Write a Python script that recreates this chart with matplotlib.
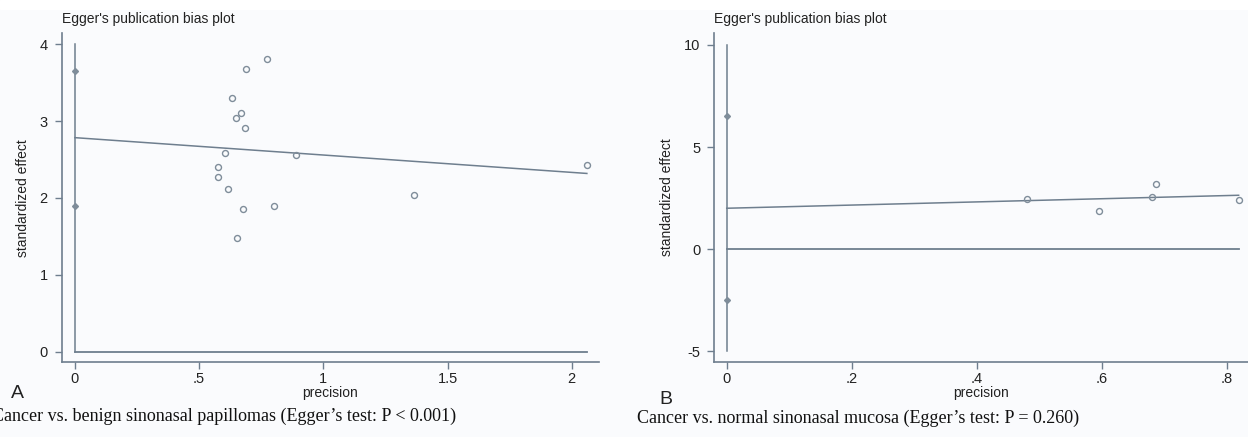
import numpy as np
import matplotlib
matplotlib.use("Agg")
import matplotlib.pyplot as plt
from matplotlib.patches import Rectangle
from matplotlib.ticker import FuncFormatter

# ---- Panel A: cancer vs. benign sinonasal papillomas ----
a_precision = [0.772, 0.689, 0.634, 0.667, 0.650, 0.685, 0.604, 0.891,
               0.577, 0.575, 0.615, 1.365, 0.801, 0.678, 0.652, 2.061]
a_effect = [3.805, 3.683, 3.297, 3.102, 3.041, 2.911, 2.589, 2.563,
            2.400, 2.273, 2.121, 2.039, 1.896, 1.853, 1.476, 2.433]
a_intercept, a_slope = 2.785, -0.226
a_ci = [3.657, 1.900]
a_xticks = [0, 0.5, 1, 1.5, 2]
a_yticks = [0, 1, 2, 3, 4]

# ---- Panel B: cancer vs. normal sinonasal mucosa ----
b_precision = [0.481, 0.595, 0.680, 0.687, 0.819]
b_effect = [2.48, 1.86, 2.56, 3.18, 2.43]
b_intercept, b_slope = 2.005, 0.776
b_ci = [6.50, -2.49]
b_xticks = [0, 0.2, 0.4, 0.6, 0.8]
b_yticks = [-5, 0, 5, 10]

line_col = '#6e7e8e'
mark_col = '#7f8d9a'
text_col = '#222222'
bg = '#fafbfd'

plt.rcParams['font.family'] = ['Liberation Sans', 'DejaVu Sans']

fig = plt.figure(figsize=(12.48, 4.37), dpi=100, facecolor=bg)
fig.add_artist(Rectangle((0, 1 - 9 / 437), 1, 9 / 437, transform=fig.transFigure,
                         color='white', zorder=0))


def stata_fmt(v, pos):
    s = ('%g' % v)
    if s.startswith('0.'):
        s = s[1:]
    elif s.startswith('-0.'):
        s = '-' + s[2:]
    return s


def egger_panel(rect, prec, eff, b0, b1, ci, xticks, yticks, xlim, ylim):
    ax = fig.add_axes(rect, facecolor=bg)
    xmax = max(prec)
    # vertical line at precision 0 spanning the y ticks, plus zero line
    ax.plot([0, 0], [yticks[0], yticks[-1]], color=line_col, lw=1.1, zorder=2)
    ax.plot([0, xmax], [0, 0], color=line_col, lw=1.3, zorder=2)
    # fitted line
    ax.plot([0, xmax], [b0, b0 + b1 * xmax], color=line_col, lw=1.1, zorder=3)
    # intercept CI markers
    ax.plot([0, 0], ci, ls='none', marker='D', ms=3, color=mark_col, zorder=4)
    # studies
    ax.plot(prec, eff, ls='none', marker='o', ms=4.3, mfc='none',
            mec=mark_col, mew=1.0, zorder=5)
    ax.set_xlim(*xlim)
    ax.set_ylim(*ylim)
    ax.set_xticks(xticks)
    ax.set_yticks(yticks)
    ax.xaxis.set_major_formatter(FuncFormatter(stata_fmt))
    ax.yaxis.set_major_formatter(FuncFormatter(stata_fmt))
    for s in ['top', 'right']:
        ax.spines[s].set_visible(False)
    for s in ['left', 'bottom']:
        ax.spines[s].set_color(line_col)
        ax.spines[s].set_linewidth(1.2)
    ax.tick_params(axis='both', direction='out', length=5, width=1.0,
                   color=line_col, labelsize=10.5, labelcolor=text_col)
    ax.tick_params(axis='x', pad=2)
    ax.tick_params(axis='y', pad=5)
    ax.set_xlabel('precision', fontsize=10, color=text_col, labelpad=0)
    ax.set_ylabel('standardized effect', fontsize=10, color=text_col, labelpad=7)
    ax.text(0, 1.02, "Egger's publication bias plot", transform=ax.transAxes,
            ha='left', va='bottom', fontsize=10, color=text_col)
    return ax


egger_panel([0.0494, 0.171, 0.4306, 0.7535], a_precision, a_effect,
            a_intercept, a_slope, a_ci, a_xticks, a_yticks,
            (-0.0536, 2.11), (-0.138, 4.147))
egger_panel([0.5724, 0.172, 0.4276, 0.7525], b_precision, b_effect,
            b_intercept, b_slope, b_ci, b_xticks, b_yticks,
            (-0.0198, 0.834), (-5.51, 10.58))

fig.text(17 / 1248, 1 - 394 / 437, 'A', fontsize=14, ha='center', va='center', color=text_col)
fig.text(666 / 1248, 1 - 400 / 437, 'B', fontsize=14, ha='center', va='center', color=text_col)

fig.text(-8 / 1248, 1 - 421 / 437,
         'Cancer vs. benign sinonasal papillomas (Egger\u2019s test: P < 0.001)',
         family='Liberation Serif', fontsize=13, ha='left', va='baseline', color='#111111')
fig.text(637 / 1248, 1 - 423 / 437,
         'Cancer vs. normal sinonasal mucosa (Egger\u2019s test: P = 0.260)',
         family='Liberation Serif', fontsize=13, ha='left', va='baseline', color='#111111')

fig.savefig('out.png', dpi=100, facecolor=fig.get_facecolor())
